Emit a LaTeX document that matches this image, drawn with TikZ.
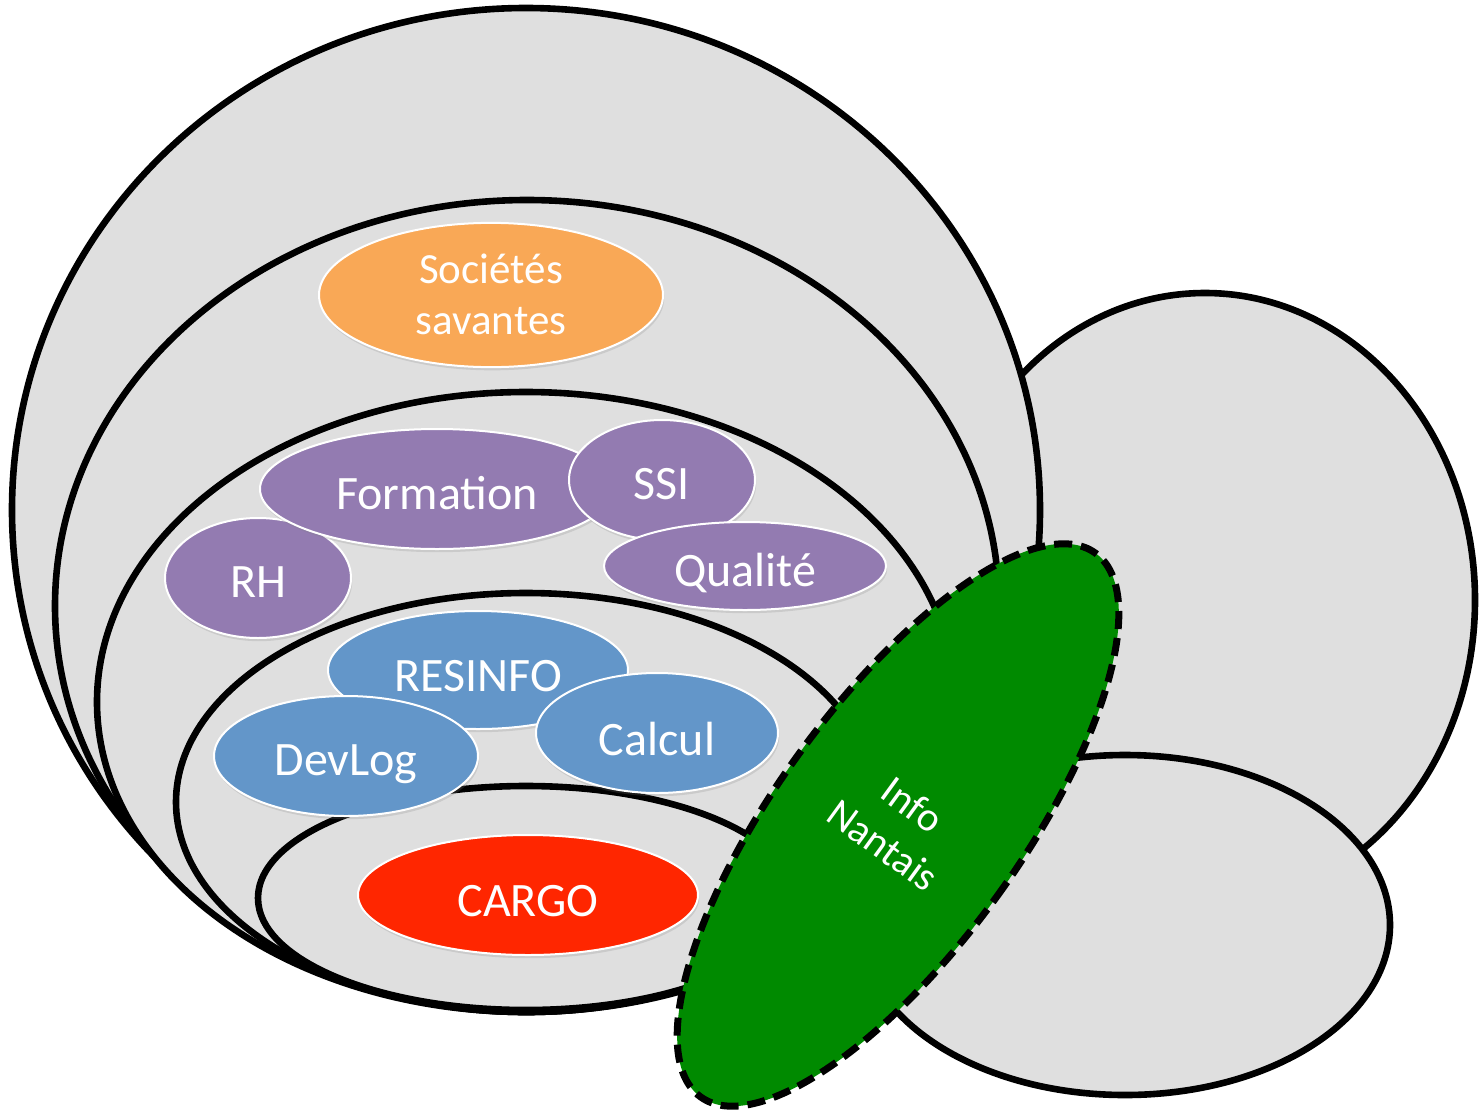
\documentclass[tikz,border=0pt]{standalone}
\usepackage{fontspec}
\setmainfont{Carlito}
\usetikzlibrary{shapes.geometric,shadows}
\definecolor{grayfill}{RGB}{223,223,223}
\definecolor{orangeF}{RGB}{249,168,86}
\definecolor{purpleF}{RGB}{147,123,177}
\definecolor{blueF}{RGB}{99,150,201}
\definecolor{redF}{RGB}{255,38,0}
\definecolor{greenF}{RGB}{0,138,0}
\newcommand\dropby[2]{\raisebox{-#1}[\height][\depth]{#2}}
\begin{document}
\begin{tikzpicture}[x=0.5pt,y=-0.5pt,
  grayshape/.style={fill=grayfill,draw=black,line width=3.3pt},
  bubble/.style={ellipse,draw=white,line width=1pt,inner sep=0pt,text=white,
    font=\fontsize{24pt}{29pt}\selectfont,align=center,
    drop shadow={opacity=0.22,shadow xshift=0.6pt,shadow yshift=-1.6pt}},
  purplebub/.style={bubble,fill=purpleF},
  bluebub/.style={bubble,fill=blueF},
  greenell/.style={ellipse,fill=greenF,draw=black,line width=3.5pt,
    dash pattern=on 9pt off 4.5pt,inner sep=0pt,text=white,align=center,
    font=\fontsize{20.5pt}{25pt}\selectfont}]
\fill[white] (0,0) rectangle (1483,1114);
\useasboundingbox (0,0) rectangle (1483,1114);
% right-hand gray shapes
\draw[grayshape] (1205,600) ellipse [x radius=270, y radius=307];
\draw[grayshape] (1125,925) ellipse [x radius=265, y radius=170];
% nested gray shapes
\draw[grayshape] (526,510) ellipse [x radius=514, y radius=502];
\draw[grayshape] (527,606) ellipse [x radius=472, y radius=406];
\draw[grayshape] (526,702) ellipse [x radius=429, y radius=310];
\draw[grayshape] (526,802) ellipse [x radius=350, y radius=209];
\draw[grayshape] (526,898) ellipse [x radius=268, y radius=112];
% labelled bubbles
\node[bubble,fill=orangeF,minimum width=172pt,minimum height=68pt,
  font=\fontsize{21.5pt}{25.5pt}\selectfont] (soc) at (491,295)
  {\dropby{2pt}{\begin{tabular}{@{}c@{}}Sociétés\\savantes\end{tabular}}};
\node[purplebub,minimum width=93pt,minimum height=60pt] (rh) at (258,578) {\dropby{2pt}{RH}};
\node[purplebub,minimum width=177pt,minimum height=60pt] (form) at (437,489) {\dropby{2pt}{Formation}};
\node[purplebub,minimum width=93pt,minimum height=60pt] (ssi) at (662,480) {\dropby{2pt}{SSI}};
\node[purplebub,minimum width=141pt,minimum height=44pt] (qual) at (745,566) {\dropby{3.5pt}{Qualité}};
\node[bluebub,minimum width=150pt,minimum height=59pt] (resinfo) at (478,670) {\dropby{3pt}{RESINFO}};
\node[bluebub,minimum width=132pt,minimum height=60pt] (devlog) at (346,756) {\dropby{4pt}{DevLog}};
\node[bluebub,minimum width=121pt,minimum height=60pt] (calcul) at (657,733) {\dropby{3pt}{Calcul}};
\node[bubble,fill=redF,minimum width=170pt,minimum height=60pt] (cargo) at (528,895) {\dropby{3pt}{CARGO}};
% green dashed ellipse
\node[greenell,rotate=-36,minimum width=122pt,minimum height=336pt] (info) at (898,825) {Info\\Nantais};
\end{tikzpicture}
\end{document}
